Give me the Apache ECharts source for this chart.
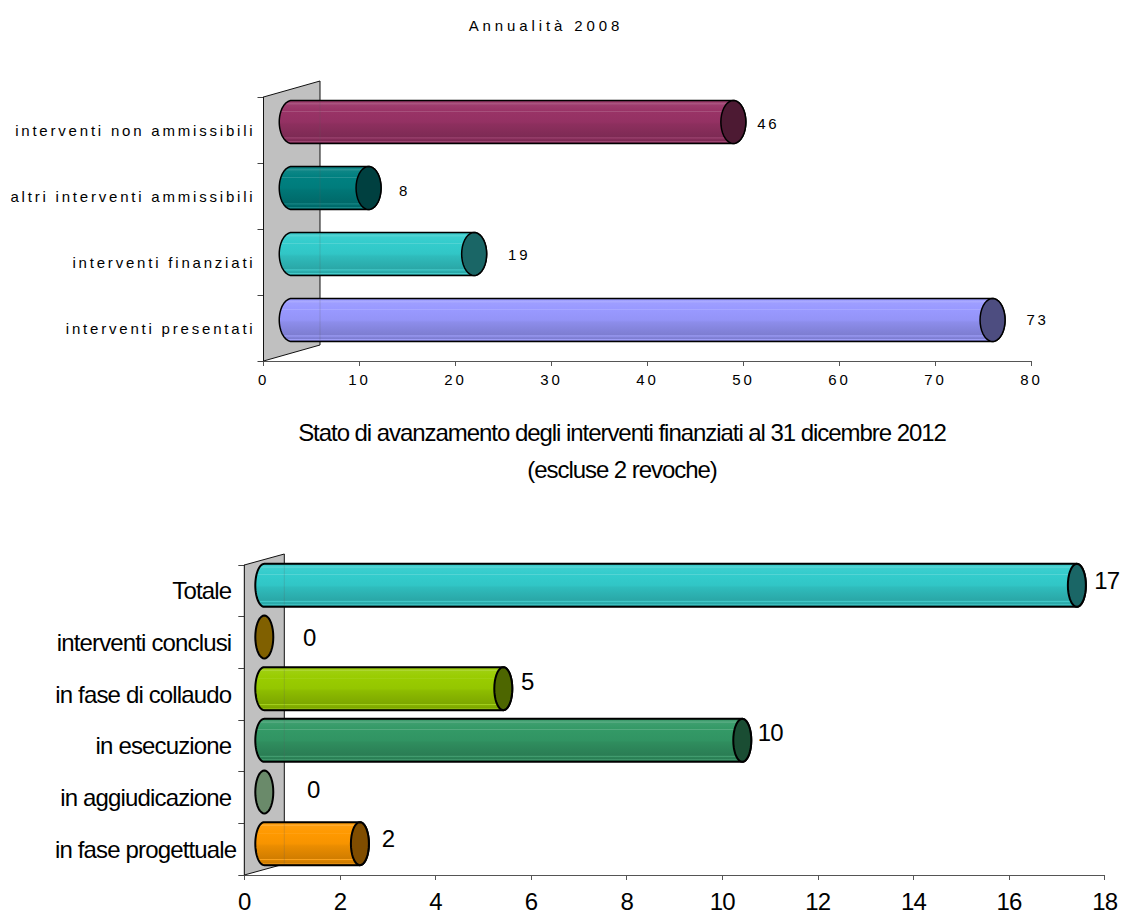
<!DOCTYPE html>
<html><head><meta charset="utf-8">
<script src="https://cdn.jsdelivr.net/npm/echarts@6/dist/echarts.min.js"></script>
<style>
html,body{margin:0;padding:0;background:#fff;width:1121px;height:913px;overflow:hidden}
#a,#b{position:absolute;left:0;width:1121px}
#a{top:0;height:410px}
#b{top:410px;height:503px}
#a text{letter-spacing:2.8px}
#b text{letter-spacing:-0.85px}
</style></head><body>
<div id="a"></div><div id="b"></div>
<script>
const topTitle = 'Annualità 2008';
const topCategories = ['interventi presentati','interventi finanziati','altri interventi ammissibili','interventi non ammissibili'];
const topValues = [73,19,8,46];
const topBarColors = ['#9999FF','#33CCCC','#008080','#993366'];
const topCapColors = ['#4D4D80','#1A6666','#004040','#4D1A33'];
const topLabelShift = [[45,-9],[45,-8],[36,-6],[35,-7]];
const topTicks = {min:0,max:80,interval:10};

const bottomTitleLines = ['Stato di avanzamento degli interventi finanziati al 31 dicembre 2012','(escluse 2 revoche)'];
const bottomCategories = ['in fase progettuale','in aggiudicazione','in esecuzione','in fase di collaudo','interventi conclusi','Totale'];
const bottomValues = [2,0,10,5,0,17];
const bottomBarColors = ['#FF9900','#6A8A6A','#339966','#99CC00','#806000','#33CCCC'];
const bottomCapColors = ['#804D00','#6A8A6A','#1A4D33','#4D6600','#806000','#1A6666'];
const bottomLabelShift = [[28,-11],[49,-8],[28,-13],[24,-13],[45,-5],[30,-10]];
const bottomTicks = {min:0,max:18,interval:2};

function mix(hex,t,f){
  const p=h=>[1,3,5].map(i=>parseInt(h.substr(i,2),16));
  const a=p(hex),b=p(t);
  return 'rgb('+a.map((v,i)=>Math.round(v+(b[i]-v)*f)).join(',')+')';
}
function barFill(c){
  const L=f=>mix(c,'#ffffff',f), D=f=>mix(c,'#000000',f);
  const s=[[0,D(.1)],[.05,L(.08)],[.08,L(.2)],[.1,L(.05)],[.24,c],[.25,L(.2)],[.27,c],[.5,D(.03)],[.55,D(.08)],[.85,D(.18)],[.87,L(.12)],[.89,D(.14)],[.94,D(.18)],[.95,L(.12)],[.97,D(.2)],[1,D(.25)]];
  return new echarts.graphic.LinearGradient(0,0,0,1,s.map(x=>({offset:x[0],color:x[1]})));
}
function ellipsePts(cx,cy,rx,ry,from,to){
  const out=[];
  for(let i=0;i<=36;i++){const t=from+(to-from)*i/36;out.push([cx+rx*Math.cos(t),cy+ry*Math.sin(t)]);}
  return out;
}
function build(cfg){
  const wallSeries={type:'custom',silent:true,z:1,data:[0],clip:false,
    renderItem(p,api){
      const c=p.coordSys,b=c.y+c.height;
      return {type:'polygon',shape:{points:[[c.x,c.y],[c.x+cfg.depth,c.y-cfg.rise],[c.x+cfg.depth,b-cfg.rise],[c.x,b]]},
        style:{fill:'#C0C0C0',stroke:'#111',lineWidth:1}};
    }};
  const barSeries={type:'custom',silent:true,z:3,clip:false,
    data:cfg.values.map((v,i)=>[v,i]),
    renderItem(p,api){
      const i=p.dataIndex,v=api.value(0),pt=api.coord([v,i]),o=api.coord([0,i]);
      const dx=cfg.depth/2,dy=-cfg.rise/2;
      const x0=o[0]+dx,x1=pt[0]+dx,cy=o[1]+dy;
      const kids=[];
      const stroke={stroke:'#000',lineWidth:cfg.lw,lineJoin:'round'};
      if(v>0){
        const body=ellipsePts(x0,cy,cfg.rx,cfg.ry,Math.PI/2,Math.PI*1.5)
          .concat(ellipsePts(x1,cy,cfg.rx,cfg.ry,-Math.PI/2,Math.PI/2));
        kids.push({type:'polygon',shape:{points:body},style:Object.assign({fill:barFill(cfg.colors[i])},stroke)});
        kids.push({type:'line',shape:{x1:o[0]+cfg.depth,y1:cy-cfg.ry+1.5,x2:o[0]+cfg.depth,y2:cy+cfg.ry-1.5},style:{stroke:'rgba(90,90,90,.22)',lineWidth:1}});
      }
      kids.push({type:'polygon',shape:{points:ellipsePts(x1,cy,cfg.rx,cfg.ry,0,Math.PI*2)},style:Object.assign({fill:cfg.caps[i]},stroke)});
      kids.push({type:'text',x:x1+cfg.shift[i][0],y:o[1]+cfg.shift[i][1],
        style:{text:String(v),fill:'#000',font:cfg.font,textAlign:'center',textVerticalAlign:'middle'}});
      return {type:'group',children:kids};
    }};
  return {
    animation:false,backgroundColor:'#fff',
    textStyle:{fontFamily:cfg.family},
    title:{text:cfg.title,left:cfg.titleX,top:cfg.titleY,textAlign:'center',padding:0,
      textStyle:{fontFamily:cfg.family,fontSize:cfg.titleSize,fontWeight:'normal',color:'#000',lineHeight:cfg.titleLH}},
    grid:Object.assign({containLabel:false},cfg.grid),
    xAxis:Object.assign({type:'value',splitLine:{show:false},
      axisLine:{show:true,lineStyle:{color:'#555',width:1}},
      axisTick:{show:true,length:5,lineStyle:{color:'#555'}},
      axisLabel:{fontFamily:cfg.family,fontSize:cfg.fs,color:'#000',margin:cfg.xMargin,hideOverlap:false,showMinLabel:true,showMaxLabel:true}},cfg.ticks),
    yAxis:{type:'category',data:cfg.categories,boundaryGap:true,
      axisLine:{show:true,onZero:false,lineStyle:{color:'#222',width:1}},
      axisTick:{show:true,length:cfg.yTick,alignWithLabel:false,lineStyle:{color:'#444'}},
      axisLabel:Object.assign({fontFamily:cfg.family,fontSize:cfg.fs,color:'#000',margin:cfg.yMargin,interval:0},cfg.yLabel||{})},
    series:[wallSeries,barSeries]
  };
}
const family='"Liberation Sans",Arial,sans-serif';
const chartA=echarts.init(document.getElementById('a'),null,{renderer:'svg'});
chartA.setOption(build({
  family,fs:15,font:'15px '+family,title:topTitle,titleX:546,titleY:17,titleSize:15,titleLH:16,
  grid:{left:263.5,top:97,width:768,height:264},categories:topCategories,values:topValues,
  colors:topBarColors,caps:topCapColors,shift:topLabelShift,ticks:topTicks,
  depth:56.5,rise:16,rx:12.5,ry:21.5,lw:1.5,xMargin:11,yMargin:8,yTick:6
}));
document.querySelectorAll('#a text').forEach(t=>{ if(t.textContent===topTitle) t.style.letterSpacing='3.9px'; });
const chartB=echarts.init(document.getElementById('b'),null,{renderer:'svg'});
chartB.setOption(build({
  family,fs:24,font:'24px '+family,title:bottomTitleLines.join('\n'),titleX:622,titleY:3.5,titleSize:24,titleLH:37,
  grid:{left:244.3,top:155,width:862,height:310},categories:bottomCategories,values:bottomValues,
  colors:bottomBarColors,caps:bottomCapColors,shift:bottomLabelShift,ticks:bottomTicks,
  depth:40,rise:11,rx:9,ry:21.5,lw:2,xMargin:14,yMargin:8,yTick:6,
  yLabel:{
    formatter:v=>v===bottomCategories[0]?v:'{p|'+v+'}',
    rich:{p:{fontFamily:family,fontSize:24,color:'#000',padding:[0,5,0,0]}}
  }
}));
document.querySelectorAll('#b text').forEach(t=>{
  if(bottomTitleLines.some(l=>t.textContent.indexOf(l)>=0)) t.style.letterSpacing='-1.05px';
});
</script>
</body></html>
